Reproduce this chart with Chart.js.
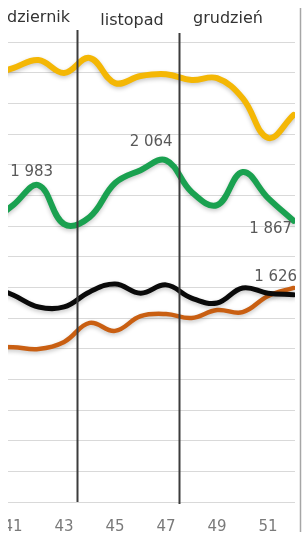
<!DOCTYPE html>
<html>
<head>
<meta charset="utf-8">
<script src="https://cdn.jsdelivr.net/npm/chart.js@4.4.1/dist/chart.umd.min.js"></script>
<style>
    html, body { margin: 0; padding: 0; background: #fff; }
    #wrap { position: absolute; left: 8px; top: 0; width: 295px; height: 539px; overflow: hidden; }
    #chart { position: absolute; left: -8px; top: 0; }
</style>
</head>
<body>
<div id="wrap"><canvas id="chart" width="303" height="539"></canvas></div>
<script>
// ================================================================
// DANE (tygodnie 40-52)
// ================================================================
const weeks       = [40, 41, 42, 43, 44, 45, 46, 47, 48, 49, 50, 51, 52];
const xTicks      = [41, 43, 45, 47, 49, 51];
const months      = ['październik', 'listopad', 'grudzień'];
const monthBreaks = [43.5, 47.5];

const yellowVals = [2339, 2365, 2391, 2349, 2398, 2316, 2339, 2345, 2326, 2332, 2267, 2137, 2212];
const greenVals  = [1853, 1918, 1983, 1856, 1879, 1990, 2032, 2064, 1961, 1918, 2026, 1941, 1867];
const blackVals  = [1658, 1625, 1586, 1586, 1635, 1661, 1631, 1658, 1615, 1599, 1648, 1631, 1626];
const orangeVals = [1455, 1455, 1449, 1472, 1534, 1508, 1556, 1563, 1550, 1576, 1569, 1622, 1648];

// which points get a value label: [dataset index, week]
const labelled = [[1, 42], [1, 47], [1, 52], [2, 52]];

const fmt = v => String(v).replace(/\B(?=(\d{3})+(?!\d))/g, ' ');
const pts = vals => weeks.map((w, i) => ({ x: w, y: vals[i] }));

// label offsets from the point (px), same order as `labelled`
const labelOffsets = [[-7, -13], [-15, -18], [-23, 8], [-18, -18]];

const overlay = {
    id: 'overlay',
    beforeDatasetDraw(chart) {
        const c = chart.ctx;
        c.save();
        c.shadowColor = 'rgba(0,0,0,0.22)';
        c.shadowBlur = 4;
        c.shadowOffsetY = 2;
    },
    afterDatasetDraw(chart) { chart.ctx.restore(); },
    afterDatasetsDraw(chart) {
        const c = chart.ctx, x = chart.scales.x, area = chart.chartArea;

        // month separators
        c.save();
        c.strokeStyle = '#3c3c3c';
        c.lineWidth = 2;
        const tops = [30, 33];
        monthBreaks.forEach((b, i) => {
            const px = Math.round(x.getPixelForValue(b)) + 0.5;
            c.beginPath(); c.moveTo(px, tops[i]); c.lineTo(px, area.bottom + i * 2); c.stroke();
        });

        // frame edge on the right
        c.strokeStyle = '#a6a6a6';
        c.lineWidth = 1.5;
        c.beginPath(); c.moveTo(area.right + 5.5, 8); c.lineTo(area.right + 5.5, 532); c.stroke();

        // month names
        c.fillStyle = '#333';
        c.font = '16px "DejaVu Sans"';
        c.textBaseline = 'alphabetic';
        c.textAlign = 'right';
        c.fillText(months[0], 70, 22);
        c.textAlign = 'center';
        c.fillText(months[1], 132, 25);
        c.fillText(months[2], 228, 23);

        // value labels
        c.fillStyle = '#595959';
        c.font = '15px "DejaVu Sans"';
        c.textBaseline = 'middle';
        labelled.forEach(([ds, wk], i) => {
            const idx = weeks.indexOf(wk);
            const el = chart.getDatasetMeta(ds).data[idx];
            const v = chart.data.datasets[ds].data[idx].y;
            c.fillText(fmt(v), el.x + labelOffsets[i][0], el.y + labelOffsets[i][1]);
        });
        c.restore();
    }
};

new Chart(document.getElementById('chart'), {
    type: 'line',
    data: {
        datasets: [
            { data: pts(yellowVals), borderColor: '#f4b705', borderWidth: 6 },
            { data: pts(greenVals),  borderColor: '#1aa150', borderWidth: 6 },
            { data: pts(blackVals),  borderColor: '#0a0a0a', borderWidth: 5 },
            { data: pts(orangeVals), borderColor: '#c95f12', borderWidth: 4.5 }
        ]
    },
    options: {
        responsive: false,
        animation: false,
        layout: { padding: { top: 42, right: 8, bottom: 4, left: 0 } },
        elements: {
            point: { radius: 0 },
            line: { tension: 0.4, borderCapStyle: 'round', fill: false }
        },
        plugins: { legend: { display: false }, tooltip: { enabled: false } },
        scales: {
            x: {
                type: 'linear',
                min: 40.486, max: 52.055,
                afterBuildTicks: s => { s.ticks = xTicks.map(v => ({ value: v })); },
                afterFit: s => { s.height = 33; s.paddingLeft = 0; s.paddingRight = 0; },
                grid: { display: false, drawTicks: false },
                border: { display: false },
                ticks: {
                    color: '#7a7a7a', padding: 16,
                    font: { family: 'DejaVu Sans', size: 15 },
                    callback: v => String(v)
                }
            },
            y: {
                min: 950, max: 2450,
                afterFit: s => { s.width = 0; },
                ticks: { display: false, stepSize: 100 },
                grid: { color: '#d9d9d9', lineWidth: 1, drawTicks: false },
                border: { display: false }
            }
        }
    },
    plugins: [overlay]
});
</script>
</body>
</html>
